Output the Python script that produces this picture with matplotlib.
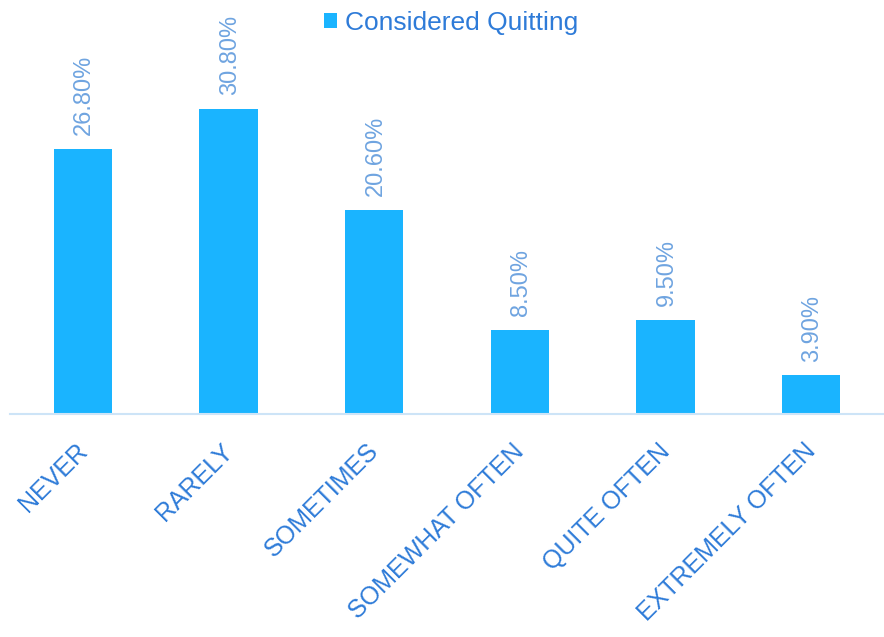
"""Considered quitting bar chart"""

import matplotlib.pyplot as plt
import matplotlib.transforms as mtransforms

CATEGORIES = ["NEVER", "RARELY", "SOMETIMES", "SOMEWHAT OFTEN", "QUITE OFTEN", "EXTREMELY OFTEN"]
VALUES = [26.8, 30.8, 20.6, 8.5, 9.5, 3.9]
SERIES = "Considered Quitting"

BAR_COLOR = "#1AB4FF"
TEXT_COLOR = "#2E7BD8"
VALUE_COLOR = "#6FA4E0"
AXIS_COLOR = "#CDE4F7"

plt.rcParams["font.family"] = ["Liberation Sans", "DejaVu Sans"]

fig = plt.figure(figsize=(8.84, 6.37), dpi=100)
ax = fig.add_axes([10 / 884, 1 - 414 / 637, 874 / 884, 396 / 637])

x = list(range(len(CATEGORIES)))
bars = ax.bar(x, VALUES, width=0.4, color=BAR_COLOR, label=SERIES)

for bar, val in zip(bars, VALUES):
    ax.annotate(f"{val:.2f}%", (bar.get_x() + bar.get_width() / 2, val),
                xytext=(1, 10), textcoords="offset points", rotation=90,
                ha="center", va="bottom", color=VALUE_COLOR, fontsize=17)

ax.set_xlim(-0.5, len(CATEGORIES) - 0.5)
ax.set_ylim(0, 40)
ax.set_xticks(x)
ax.set_xticklabels(CATEGORIES, rotation=45, ha="right", va="top", rotation_mode="anchor",
                   color=TEXT_COLOR, fontsize=18)
ax.tick_params(axis="x", length=0, pad=18)
shift = mtransforms.ScaledTranslation(-8 / 100, 0, fig.dpi_scale_trans)
for lbl in ax.get_xticklabels():
    lbl.set_transform(lbl.get_transform() + shift)
ax.set_yticks([])
for side in ["top", "right", "left"]:
    ax.spines[side].set_visible(False)
ax.spines["bottom"].set_color(AXIS_COLOR)
ax.spines["bottom"].set_linewidth(1.5)

leg = fig.legend(loc="upper center", bbox_to_anchor=(0.51, 1.02), frameon=False,
                 fontsize=19, handlelength=0.5, handleheight=0.5, handletextpad=0.3)
for t in leg.get_texts():
    t.set_color(TEXT_COLOR)

fig.savefig("out.png")
